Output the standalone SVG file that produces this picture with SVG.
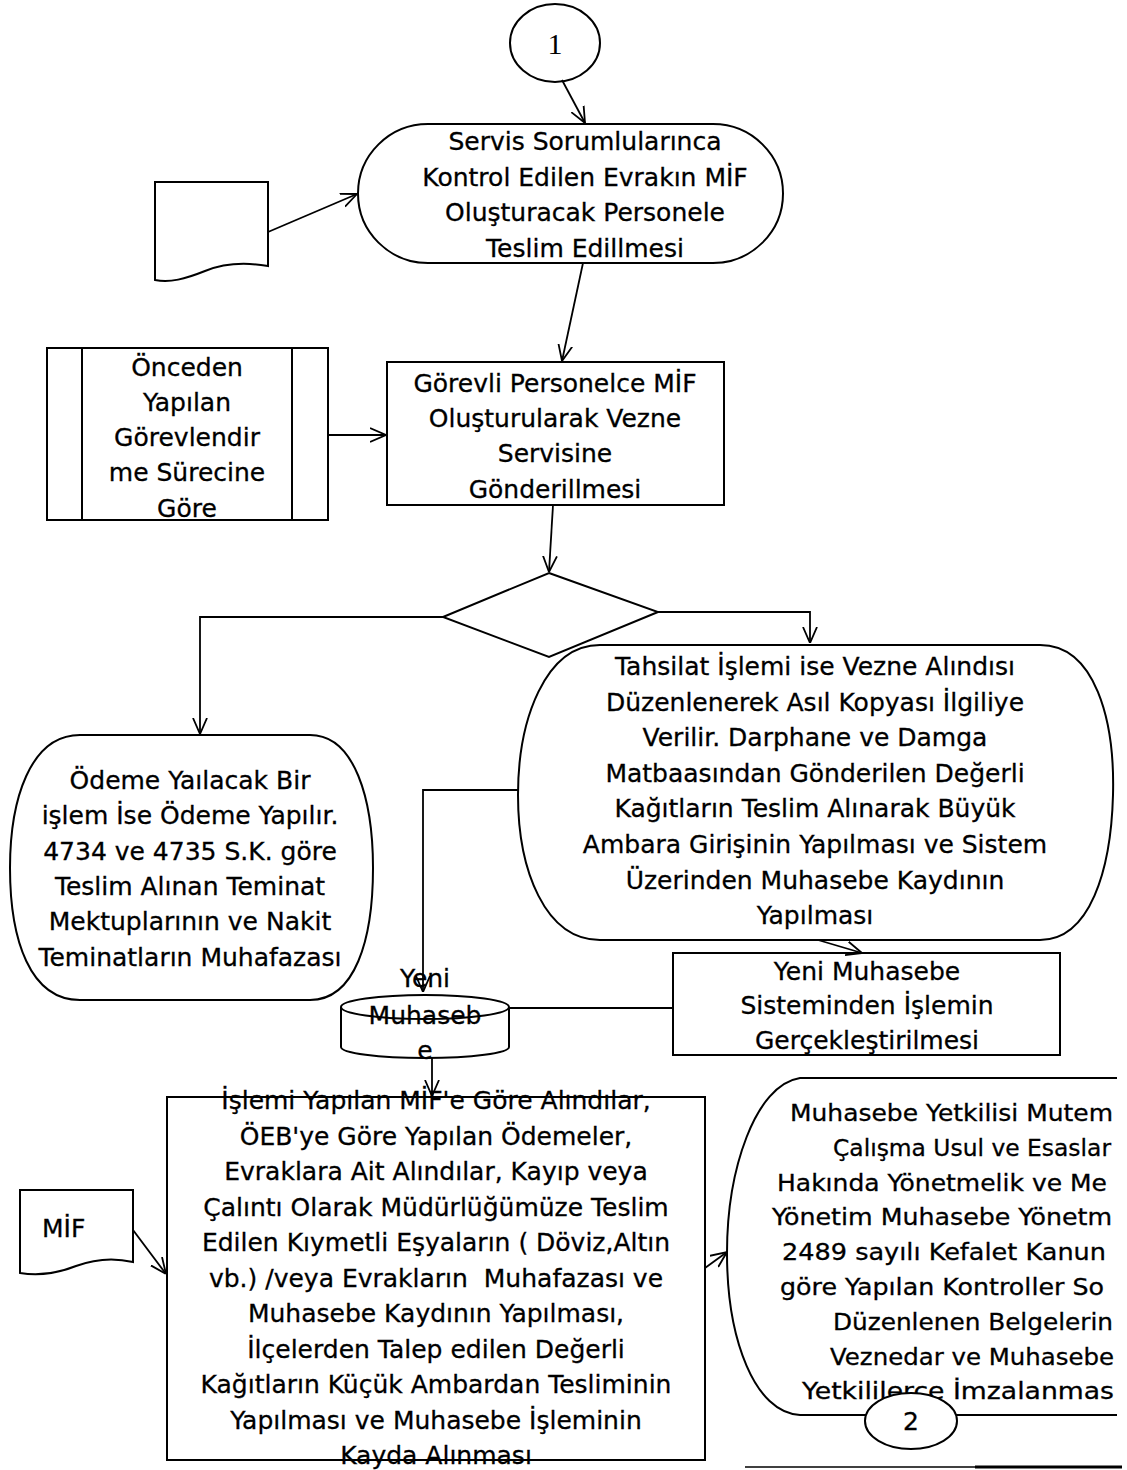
<svg xmlns="http://www.w3.org/2000/svg" width="1127" height="1470" viewBox="0 0 1127 1470">
<defs>
<marker id="arr" viewBox="0 0 16 16" refX="16" refY="8" markerWidth="16" markerHeight="16" markerUnits="userSpaceOnUse" orient="auto">
<path d="M0,1 L16,8 L0,15" fill="none" stroke="#000" stroke-width="1.8"/>
</marker>
</defs>
<style>
.s{fill:none;stroke:#000;stroke-width:2}
.w{fill:#fff;stroke:#000;stroke-width:2}
.t{font-family:"DejaVu Sans","Noto Sans",sans-serif;font-size:25px;fill:#000;stroke:#000;stroke-width:0.3;text-anchor:middle}
.tl{font-family:"DejaVu Sans","Noto Sans",sans-serif;font-size:25px;fill:#000;stroke:#000;stroke-width:0.3}
.tr{font-family:"DejaVu Sans","Noto Sans",sans-serif;font-size:23px;fill:#000;stroke:#000;stroke-width:0.3}
.c{fill:none;stroke:#000;stroke-width:1.8}
.ca{fill:none;stroke:#000;stroke-width:1.8;marker-end:url(#arr)}
</style>
<rect width="1127" height="1470" fill="#fff"/>

<g id="start1">
<ellipse class="s" cx="555" cy="43" rx="45" ry="39"/>
<text x="555" y="54" style="font-family:'Liberation Serif',serif;font-size:30px;text-anchor:middle">1</text>
</g>

<g id="servis">
<rect class="s" x="358" y="124" width="425" height="139" rx="70" ry="69.5"/>
<text class="t" x="585" y="150">Servis Sorumlularınca</text>
<text class="t" x="585" y="186">Kontrol Edilen Evrakın MİF</text>
<text class="t" x="585" y="221">Oluşturacak Personele</text>
<text class="t" x="585" y="257">Teslim Edillmesi</text>
</g>

<g id="doc1">
<path class="s" d="M155,182 H268 V266 C245,262 222,264 205,271 C185,279 170,283 155,280 Z"/>
</g>

<g id="onceden">
<rect class="s" x="47" y="348" width="281" height="172"/>
<line class="s" x1="82" y1="348" x2="82" y2="520"/>
<line class="s" x1="292" y1="348" x2="292" y2="520"/>
<text class="t" x="187" y="376">Önceden</text>
<text class="t" x="187" y="411">Yapılan</text>
<text class="t" x="187" y="446">Görevlendir</text>
<text class="t" x="187" y="481">me Sürecine</text>
<text class="t" x="187" y="517">Göre</text>
</g>

<g id="gorevli">
<rect class="s" x="387" y="362" width="337" height="143"/>
<text class="t" x="555" y="392">Görevli Personelce MİF</text>
<text class="t" x="555" y="427">Oluşturularak Vezne</text>
<text class="t" x="555" y="462">Servisine</text>
<text class="t" x="555" y="498">Gönderillmesi</text>
</g>

<g id="karar">
<path class="s" d="M549,573 L658,612 L549,657 L443,617 Z"/>
</g>

<g id="odeme">
<path class="s" d="M80,735 H310 C355,735 373,800 373,868 C373,940 355,1000 310,1000 H80 C30,1000 10,940 10,868 C10,800 30,735 80,735 Z"/>
<text class="t" x="190" y="789">Ödeme Yaılacak Bir</text>
<text class="t" x="190" y="824">işlem İse Ödeme Yapılır.</text>
<text class="t" x="190" y="860">4734 ve 4735 S.K. göre</text>
<text class="t" x="190" y="895">Teslim Alınan Teminat</text>
<text class="t" x="190" y="930">Mektuplarının ve Nakit</text>
<text class="t" x="190" y="966">Teminatların Muhafazası</text>
</g>

<g id="tahsilat">
<path class="s" d="M600,645 H1040 C1095,645 1115,720 1113,795 C1111,870 1090,940 1040,940 H600 C545,940 518,870 518,795 C518,720 545,645 600,645 Z"/>
<text class="t" x="815" y="675">Tahsilat İşlemi ise Vezne Alındısı</text>
<text class="t" x="815" y="711">Düzenlenerek Asıl Kopyası İlgiliye</text>
<text class="t" x="815" y="746">Verilir. Darphane ve Damga</text>
<text class="t" x="815" y="782">Matbaasından Gönderilen Değerli</text>
<text class="t" x="815" y="817">Kağıtların Teslim Alınarak Büyük</text>
<text class="t" x="815" y="853">Ambara Girişinin Yapılması ve Sistem</text>
<text class="t" x="815" y="889">Üzerinden Muhasebe Kaydının</text>
<text class="t" x="815" y="924">Yapılması</text>
</g>

<g id="db">
<path class="s" d="M341,1007 V1047 A84,11 0 0 0 509,1047 V1007"/>
<ellipse class="s" cx="425" cy="1007" rx="84" ry="12"/>
<text class="t" x="425" y="987">Yeni</text>
<text class="t" x="425" y="1024">Muhaseb</text>
<text class="t" x="425" y="1059">e</text>
</g>

<g id="yenimuh">
<rect class="s" x="673" y="953" width="387" height="102"/>
<text class="t" x="867" y="980">Yeni Muhasebe</text>
<text class="t" x="867" y="1014">Sisteminden İşlemin</text>
<text class="t" x="867" y="1049">Gerçekleştirilmesi</text>
</g>

<g id="kayit">
<rect class="s" x="167" y="1097" width="538" height="363"/>
<text class="t" x="436" y="1109">İşlemi Yapılan MİF'e Göre Alındılar,</text>
<text class="t" x="436" y="1145">ÖEB'ye Göre Yapılan Ödemeler,</text>
<text class="t" x="436" y="1180">Evraklara Ait Alındılar, Kayıp veya</text>
<text class="t" x="436" y="1216">Çalıntı Olarak Müdürlüğümüze Teslim</text>
<text class="t" x="436" y="1251">Edilen Kıymetli Eşyaların ( Döviz,Altın</text>
<text class="t" x="436" y="1287" xml:space="preserve">vb.) /veya Evrakların  Muhafazası ve</text>
<text class="t" x="436" y="1322">Muhasebe Kaydının Yapılması,</text>
<text class="t" x="436" y="1358">İlçelerden Talep edilen Değerli</text>
<text class="t" x="436" y="1393">Kağıtların Küçük Ambardan Tesliminin</text>
<text class="t" x="436" y="1429">Yapılması ve Muhasebe İşleminin</text>
<text class="t" x="436" y="1464">Kayda Alınması</text>
</g>

<g id="mif">
<path class="s" d="M20,1190 H133 V1262 C112,1257 92,1260 76,1266 C56,1274 38,1276 20,1273 Z"/>
<text class="tl" x="42" y="1237">MİF</text>
</g>

<g id="imza">
<path class="s" d="M1117,1078 H800 C755,1085 727,1170 727,1253 C727,1340 755,1413 800,1415 H1117"/>
<text class="tr" x="790" y="1121" textLength="323" lengthAdjust="spacingAndGlyphs">Muhasebe Yetkilisi Mutem</text>
<text class="tr" x="833" y="1156" textLength="278" lengthAdjust="spacingAndGlyphs">Çalışma Usul ve Esaslar</text>
<text class="tr" x="777" y="1191" textLength="330" lengthAdjust="spacingAndGlyphs">Hakında Yönetmelik ve Me</text>
<text class="tr" x="772" y="1225" textLength="340" lengthAdjust="spacingAndGlyphs">Yönetim Muhasebe Yönetm</text>
<text class="tr" x="782" y="1260" textLength="324" lengthAdjust="spacingAndGlyphs">2489 sayılı Kefalet Kanun</text>
<text class="tr" x="780" y="1295" textLength="324" lengthAdjust="spacingAndGlyphs">göre Yapılan Kontroller So</text>
<text class="tr" x="833" y="1330" textLength="280" lengthAdjust="spacingAndGlyphs">Düzenlenen Belgelerin</text>
<text class="tr" x="830" y="1365" textLength="284" lengthAdjust="spacingAndGlyphs">Veznedar ve Muhasebe</text>
<text class="tr" x="802" y="1399" textLength="312" lengthAdjust="spacingAndGlyphs">Yetkililerce İmzalanmas</text>
</g>

<g id="connectors">
<line class="ca" x1="562" y1="80" x2="585" y2="123"/>
<line class="ca" x1="268" y1="232" x2="357" y2="194"/>
<line class="ca" x1="583" y1="263" x2="562" y2="361"/>
<line class="ca" x1="328" y1="435" x2="386" y2="435"/>
<line class="ca" x1="553" y1="505" x2="549" y2="572"/>
<polyline class="ca" points="443,617 200,617 200,734"/>
<polyline class="ca" points="658,612 810,612 810,643"/>
<polyline class="ca" points="519,790 423,790 423,992"/>
<line class="ca" x1="818" y1="940" x2="862" y2="953"/>
<line class="c" x1="509" y1="1008" x2="673" y2="1008"/>
<line class="ca" x1="432" y1="1058" x2="432" y2="1096"/>
<line class="ca" x1="133" y1="1230" x2="166" y2="1274"/>
<line class="ca" x1="705" y1="1268" x2="727" y2="1252"/>
</g>

<g id="end2">
<ellipse class="w" cx="911" cy="1421" rx="46" ry="28"/>
<text class="t" x="911" y="1430">2</text>
</g>

<line x1="745" y1="1467" x2="975" y2="1467" stroke="#000" stroke-width="1.5"/>
<line x1="975" y1="1467" x2="1122" y2="1467" stroke="#000" stroke-width="3"/>
</svg>
